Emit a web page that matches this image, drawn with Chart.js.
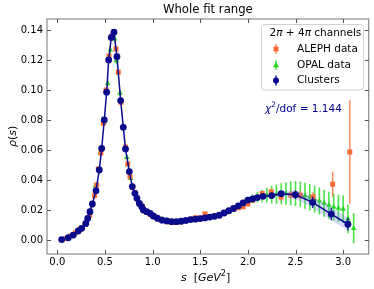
<!DOCTYPE html>
<html><head><meta charset="utf-8">
<script src="https://cdn.jsdelivr.net/npm/chart.js@4.4.1/dist/chart.umd.min.js"></script>
<style>html,body{margin:0;padding:0;background:#fff}#wrap{width:374px;height:289px}</style>
</head><body><div id="wrap"><canvas id="c" width="374" height="289"></canvas></div>
<script>
// ---- data ----
const clusterS = [0.046,0.115,0.168,0.22,0.256,0.30,0.319,0.343,0.368,0.406,0.441,0.466,0.493,0.518,0.539,0.567,0.595,0.626,0.665,0.693,0.716,0.756,0.787,0.815,0.836,0.861,0.886,0.903,0.938,0.973,1.007,1.05,1.10,1.15,1.20,1.25,1.30,1.35,1.40,1.45,1.50,1.55,1.60,1.65,1.70,1.75,1.80,1.85,1.90,1.95,2.00,2.05,2.10,2.16,2.25,2.35,2.50,2.68,2.875,3.05];
const clusterRho = [0.0003,0.0015,0.0033,0.006,0.0078,0.011,0.0144,0.0189,0.024,0.0329,0.0467,0.061,0.080,0.0985,0.120,0.135,0.1385,0.1222,0.0929,0.0751,0.0607,0.0456,0.0356,0.0311,0.0278,0.0244,0.0222,0.020,0.0189,0.0178,0.016,0.0145,0.0132,0.0127,0.0122,0.0122,0.0125,0.013,0.0136,0.0139,0.0143,0.0147,0.0153,0.0158,0.0165,0.018,0.0195,0.021,0.0228,0.0248,0.0266,0.0274,0.0283,0.0291,0.0296,0.0309,0.0302,0.0251,0.0173,0.0105];
const clusterErr = [0.0003,0.0003,0.0003,0.0003,0.0003,0.0004,0.0004,0.0005,0.0005,0.0006,0.0007,0.0008,0.001,0.001,0.0012,0.0012,0.0012,0.0012,0.001,0.001,0.0008,0.0007,0.0006,0.0005,0.0005,0.0005,0.0004,0.0004,0.0004,0.0004,0.0004,0.0004,0.0004,0.0004,0.0004,0.0004,0.0004,0.0004,0.0004,0.0004,0.0004,0.0004,0.0005,0.0005,0.0005,0.0005,0.0006,0.0006,0.0007,0.0008,0.0009,0.001,0.0011,0.0012,0.0014,0.0018,0.0028,0.0038,0.0042,0.0042];

const alephS = [0.09,0.14,0.19,0.24,0.29,0.34,0.39,0.413,0.43,0.458,0.483,0.512,0.542,0.574,0.616,0.64,0.668,0.693,0.715,0.739,0.763,0.79,0.815,0.84,0.87,0.90,0.94,0.98,1.02,1.06,1.10,1.15,1.20,1.25,1.30,1.35,1.40,1.45,1.50,1.55,1.60,1.65,1.70,1.75,1.80,1.85,1.90,1.95,2.00,2.05,2.10,2.15,2.245,2.347,2.45,2.55,2.683,2.89,3.07];
const alephRho = [0.001,0.0027,0.0048,0.0072,0.0105,0.0165,0.0295,0.0367,0.0473,0.058,0.0778,0.100,0.1227,0.136,0.1273,0.1118,0.0918,0.075,0.062,0.0507,0.0422,0.035,0.0316,0.028,0.024,0.021,0.0185,0.017,0.0155,0.014,0.013,0.0122,0.0118,0.0118,0.0122,0.013,0.014,0.0148,0.0145,0.0173,0.0155,0.016,0.0165,0.0185,0.019,0.0205,0.0215,0.0222,0.024,0.0265,0.0285,0.031,0.0322,0.0287,0.030,0.0298,0.0289,0.0371,0.0587];
const alephErr = [0.0002,0.0002,0.0002,0.0003,0.0003,0.0004,0.0005,0.0006,0.0007,0.0008,0.001,0.0012,0.0014,0.0015,0.0014,0.0012,0.001,0.0009,0.0008,0.0007,0.0006,0.0005,0.0005,0.0005,0.0004,0.0004,0.0004,0.0004,0.0004,0.0004,0.0004,0.0004,0.0004,0.0004,0.0005,0.0005,0.0005,0.0005,0.0005,0.0006,0.0006,0.0006,0.0007,0.0007,0.0008,0.0008,0.0009,0.001,0.0011,0.0012,0.0014,0.0016,0.002,0.0024,0.0026,0.0028,0.003,0.0085,0.0345];

const opalS = [0.10,0.15,0.20,0.25,0.30,0.35,0.40,0.45,0.49,0.529,0.556,0.602,0.619,0.658,0.693,0.73,0.77,0.81,0.85,0.90,0.95,1.00,1.05,1.10,1.15,1.20,1.25,1.30,1.35,1.40,1.45,1.50,1.55,1.60,1.65,1.70,1.75,1.80,1.85,1.90,1.95,2.00,2.05,2.10,2.15,2.20,2.25,2.30,2.35,2.40,2.45,2.50,2.55,2.60,2.65,2.70,2.75,2.80,2.85,2.90,2.95,3.00,3.05,3.11];
const opalRho = [0.0012,0.003,0.0052,0.0078,0.0115,0.02,0.036,0.058,0.0778,0.1044,0.1267,0.134,0.1195,0.0978,0.0756,0.055,0.041,0.032,0.026,0.0215,0.0185,0.0165,0.015,0.014,0.013,0.0125,0.012,0.0123,0.0128,0.0133,0.0138,0.0143,0.0148,0.0152,0.0158,0.0165,0.0178,0.0195,0.021,0.0228,0.0248,0.0265,0.0275,0.0285,0.0292,0.0298,0.0302,0.0305,0.0308,0.031,0.0311,0.031,0.0305,0.0295,0.0285,0.0272,0.026,0.0245,0.0232,0.022,0.0212,0.0205,0.014,0.0078];
const opalErr = [0.0003,0.0003,0.0003,0.0004,0.0005,0.0006,0.0008,0.001,0.0015,0.002,0.0022,0.0022,0.002,0.0018,0.0015,0.0012,0.001,0.0008,0.0007,0.0006,0.0006,0.0006,0.0006,0.0006,0.0006,0.0006,0.0006,0.0006,0.0006,0.0007,0.0007,0.0007,0.0008,0.0008,0.0009,0.0009,0.001,0.0011,0.0013,0.0016,0.002,0.0024,0.003,0.0035,0.0042,0.005,0.0058,0.0064,0.007,0.0075,0.008,0.0083,0.0085,0.0087,0.0088,0.0089,0.009,0.009,0.009,0.009,0.009,0.0092,0.0095,0.01];

const xTickVals = [0, 0.5, 1.0, 1.5, 2.0, 2.5, 3.0];
const yTickVals = [0, 0.02, 0.04, 0.06, 0.08, 0.10, 0.12, 0.14];
const titleText = 'Whole fit range';
const legendTitle = ['2', 'π', ' + 4', 'π', ' channels'];
const seriesNames = ['ALEPH data', 'OPAL data', 'Clusters'];
const chiValue = '1.144';

// ---- styles ----
const C_ALEPH = '#ff6a33', C_ALEPH_BAR = 'rgba(255,120,70,0.85)';
const C_OPAL = '#22d622', C_OPAL_BAR = 'rgba(40,225,40,0.85)';
const C_CLU = '#0a0a8c';
const FONT = '"DejaVu Sans", Verdana, sans-serif';

function pts(xs, ys){ return xs.map((x,i)=>({x:x, y:ys[i]})); }

function drawRuns(ctx, x, y, runs){
  let cx = x;
  for(const r of runs){
    ctx.font = r.font;
    ctx.fillText(r.t, cx, y + (r.dy||0));
    cx += ctx.measureText(r.t).width;
  }
  return cx;
}

const deco = {
  id: 'deco',
  beforeDatasetDraw(chart, args){
    const ds = chart.data.datasets[args.index];
    const xs = chart.scales.x, ys = chart.scales.y, ctx = chart.ctx, a = chart.chartArea;
    ctx.save();
    ctx.beginPath(); ctx.rect(a.left, a.top, a.right-a.left, a.bottom-a.top); ctx.clip();
    if(ds.band){
      const S = ds.band.s, R = ds.band.r, E = ds.band.e;
      ctx.beginPath();
      for(let i=0;i<S.length;i++){ const px=xs.getPixelForValue(S[i]), py=ys.getPixelForValue(R[i]+E[i]); i?ctx.lineTo(px,py):ctx.moveTo(px,py); }
      for(let i=S.length-1;i>=0;i--){ ctx.lineTo(xs.getPixelForValue(S[i]), ys.getPixelForValue(R[i]-E[i])); }
      ctx.closePath();
      ctx.fillStyle = 'rgba(110,120,235,0.28)';
      ctx.fill();
    }
    if(ds.err){
      ctx.strokeStyle = ds.errColor; ctx.lineWidth = ds.errWidth || 1.4;
      const S = ds.err.s, R = ds.err.r, E = ds.err.e;
      for(let i=0;i<S.length;i++){
        const px = xs.getPixelForValue(S[i]);
        ctx.beginPath();
        ctx.moveTo(px, ys.getPixelForValue(R[i]+E[i]));
        ctx.lineTo(px, ys.getPixelForValue(R[i]-E[i]));
        ctx.stroke();
      }
    }
    ctx.restore();
  },
  afterDraw(chart){
    const ctx = chart.ctx, a = chart.chartArea, xs = chart.scales.x, ys = chart.scales.y;
    ctx.save();
    // frame
    ctx.strokeStyle = '#8a8a8a'; ctx.lineWidth = 1.2;
    ctx.strokeRect(a.left, a.top, a.right-a.left, a.bottom-a.top);
    // inward ticks on all sides
    ctx.strokeStyle = '#555'; ctx.lineWidth = 1;
    const tl = 4;
    ctx.beginPath();
    for(const v of xTickVals){
      const px = Math.round(xs.getPixelForValue(v)) + 0.5;
      ctx.moveTo(px, a.bottom); ctx.lineTo(px, a.bottom - tl);
      ctx.moveTo(px, a.top); ctx.lineTo(px, a.top + tl);
    }
    for(const v of yTickVals){
      const py = Math.round(ys.getPixelForValue(v)) + 0.5;
      ctx.moveTo(a.left, py); ctx.lineTo(a.left + tl, py);
      ctx.moveTo(a.right, py); ctx.lineTo(a.right - tl, py);
    }
    ctx.stroke();
    // title
    ctx.fillStyle = '#000';
    ctx.font = '11.7px ' + FONT; ctx.textAlign = 'center'; ctx.textBaseline = 'middle';
    ctx.fillText(titleText, (a.left + a.right)/2, 10);
    // x label
    ctx.textAlign = 'left'; ctx.textBaseline = 'alphabetic';
    const it = 'italic 11px ' + FONT, rg = '11px ' + FONT;
    drawRuns(ctx, 181, 281, [
      {t:'s', font:it}, {t:'  ', font:rg}, {t:'[', font:rg}, {t:'GeV', font:it}, {t:'2', font:'8px '+FONT, dy:-5}, {t:']', font:rg}
    ]);
    // y label
    ctx.save();
    ctx.translate(16, 147); ctx.rotate(-Math.PI/2);
    drawRuns(ctx, 0, 0, [{t:'ρ', font:it}, {t:'(', font:rg}, {t:'s', font:it}, {t:')', font:rg}]);
    ctx.restore();
    // legend box
    ctx.beginPath();
    ctx.roundRect(261.5, 24.5, 102, 65.5, 3);
    ctx.fillStyle = 'rgba(255,255,255,0.85)'; ctx.fill();
    ctx.strokeStyle = '#d2d2d2'; ctx.lineWidth = 1; ctx.stroke();
    ctx.fillStyle = '#000';
    const lf = '10.5px ' + FONT, lfi = 'italic 10.5px ' + FONT;
    ctx.textBaseline = 'middle';
    drawRuns(ctx, 269.5, 33.5, [{t:legendTitle[0], font:lf},{t:legendTitle[1], font:lfi},{t:legendTitle[2], font:lf},{t:legendTitle[3], font:lfi},{t:legendTitle[4], font:lf}]);
    const rows = [49, 65, 80.5], mx = 276;
    // ALEPH marker
    ctx.strokeStyle = C_ALEPH_BAR; ctx.lineWidth = 1.4;
    ctx.beginPath(); ctx.moveTo(mx, rows[0]-5); ctx.lineTo(mx, rows[0]+5); ctx.stroke();
    ctx.fillStyle = C_ALEPH; ctx.fillRect(mx-2.5, rows[0]-2.5, 5, 5);
    // OPAL marker
    ctx.strokeStyle = C_OPAL_BAR;
    ctx.beginPath(); ctx.moveTo(mx, rows[1]-5); ctx.lineTo(mx, rows[1]+5); ctx.stroke();
    ctx.fillStyle = C_OPAL; ctx.beginPath(); ctx.moveTo(mx, rows[1]-3.2); ctx.lineTo(mx+3, rows[1]+2.2); ctx.lineTo(mx-3, rows[1]+2.2); ctx.closePath(); ctx.fill();
    // Clusters marker
    ctx.strokeStyle = C_CLU;
    ctx.beginPath(); ctx.moveTo(mx, rows[2]-5); ctx.lineTo(mx, rows[2]+5); ctx.stroke();
    ctx.fillStyle = C_CLU; ctx.beginPath(); ctx.arc(mx, rows[2], 3, 0, Math.PI*2); ctx.fill();
    ctx.fillStyle = '#000'; ctx.font = lf;
    seriesNames.forEach((n,i)=>ctx.fillText(n, 297, rows[i]));
    // chi2 text
    ctx.fillStyle = '#00008b'; ctx.textBaseline = 'alphabetic';
    drawRuns(ctx, 265, 112, [{t:'χ', font:lfi}, {t:'2', font:'7.5px '+FONT, dy:-5}, {t:'/dof = ' + chiValue, font:lf}]);
    ctx.restore();
  }
};

Chart.defaults.font.family = FONT;
Chart.defaults.color = '#000';

new Chart(document.getElementById('c'), {
  type: 'scatter',
  data: {
    datasets: [
      { label: seriesNames[2], data: pts(clusterS, clusterRho), showLine: true, order: 0,
        borderColor: C_CLU, borderWidth: 1.5, backgroundColor: C_CLU, pointBackgroundColor: C_CLU,
        pointBorderWidth: 0, pointRadius: 3.4, pointStyle: 'circle', tension: 0,
        band: {s: clusterS, r: clusterRho, e: clusterErr},
        err: {s: clusterS, r: clusterRho, e: clusterErr}, errColor: C_CLU, errWidth: 1.2 },
      { label: seriesNames[0], data: pts(alephS, alephRho), showLine: false, order: 1,
        backgroundColor: C_ALEPH, borderColor: C_ALEPH, pointBorderWidth: 0, pointRadius: 3.5, pointStyle: 'rect',
        err: {s: alephS, r: alephRho, e: alephErr}, errColor: C_ALEPH_BAR, errWidth: 1.5 },
      { label: seriesNames[1], data: pts(opalS, opalRho), showLine: false, order: 2,
        backgroundColor: C_OPAL, borderColor: C_OPAL, pointBorderWidth: 0, pointRadius: 3.2, pointStyle: 'triangle',
        err: {s: opalS, r: opalRho, e: opalErr}, errColor: C_OPAL_BAR, errWidth: 1.6 }
    ]
  },
  options: {
    responsive: false, animation: false, devicePixelRatio: 1,
    layout: { padding: { top: 19, right: 5.3, left: 0, bottom: 0 } },
    plugins: { legend: { display: false }, tooltip: { enabled: false }, title: { display: false } },
    scales: {
      x: { type: 'linear', min: -0.108, max: 3.268,
        grid: { display: false, drawTicks: false }, border: { display: false },
        afterBuildTicks: s => { s.ticks = xTickVals.map(v => ({value: v})); },
        afterFit: s => { s.height = 35; },
        ticks: { padding: 2, font: { size: 10 }, color: '#000', callback: v => Number(v).toFixed(1), maxRotation: 0, autoSkip: false } },
      y: { type: 'linear', min: -0.00933, max: 0.1473,
        grid: { display: false, drawTicks: false }, border: { display: false },
        afterBuildTicks: s => { s.ticks = yTickVals.map(v => ({value: v})); },
        afterFit: s => { s.width = 47; },
        ticks: { padding: 4, font: { size: 10 }, color: '#000', callback: v => Number(v).toFixed(2), autoSkip: false } }
    }
  },
  plugins: [deco]
});
</script>
</body></html>
